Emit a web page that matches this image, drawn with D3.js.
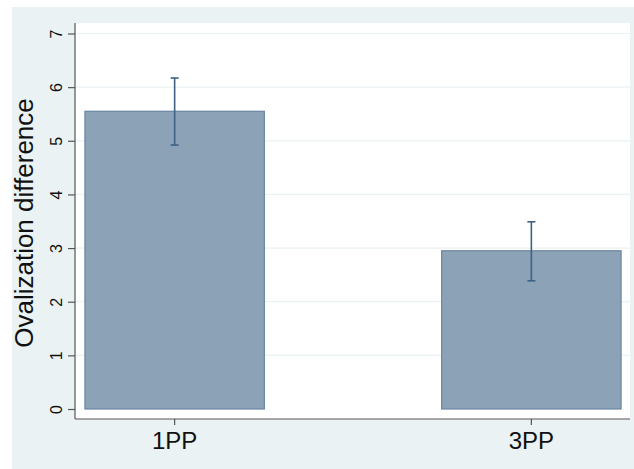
<!DOCTYPE html>
<html>
<head>
<meta charset="utf-8">
<script src="https://cdn.jsdelivr.net/npm/d3@7"></script>
<style>
  body { margin: 0; background: #fff; }
  svg { display: block; font-family: 'Liberation Sans', Arial, sans-serif; }
</style>
</head>
<body>
<svg id="chart" width="634" height="469"></svg>
<script>
// values
const groups = ['1PP', '3PP'];
const means = [5.55, 2.95];
const lower = [4.92, 2.39];
const upper = [6.17, 3.49];
const yTicks = [0, 1, 2, 3, 4, 5, 6, 7];

const svg = d3.select('#chart');

// Stata-style outer region
svg.append('rect')
  .attr('x', 12).attr('y', 7)
  .attr('width', 634 - 12).attr('height', 469 - 7)
  .attr('fill', '#eaf2f3');

const plotLeft = 75, plotRight = 630, plotTop = 23, plotBottom = 419;

svg.append('rect')
  .attr('x', plotLeft).attr('y', plotTop)
  .attr('width', plotRight - plotLeft).attr('height', plotBottom - plotTop)
  .attr('fill', '#fff');

const x = d3.scaleBand()
  .domain(groups)
  .range([plotLeft + 1, plotRight])
  .paddingInner(0.497)
  .paddingOuter(0.025);

const y = d3.scaleLinear().domain([0, 7]).range([409, 33.5]);

// gridlines
svg.append('g')
  .selectAll('line')
  .data(yTicks.filter((d) => d > 0))
  .join('line')
  .attr('x1', plotLeft)
  .attr('x2', plotRight)
  .attr('y1', (d) => y(d))
  .attr('y2', (d) => y(d))
  .attr('stroke', '#eaf2f3')
  .attr('stroke-width', 1.2);

// bars
svg.append('g')
  .selectAll('rect')
  .data(groups)
  .join('rect')
  .attr('x', (d) => x(d))
  .attr('width', x.bandwidth())
  .attr('y', (d, i) => y(means[i]))
  .attr('height', (d, i) => y(0) - y(means[i]))
  .attr('fill', '#8ca2b7')
  .attr('stroke', '#6a86a2')
  .attr('stroke-width', 1.2);

// error bars
const eb = svg.append('g')
  .attr('stroke', '#3f6184')
  .attr('stroke-width', 1.6);

groups.forEach((g, i) => {
  const cx = x(g) + x.bandwidth() / 2;
  eb.append('line')
    .attr('x1', cx).attr('x2', cx)
    .attr('y1', y(lower[i])).attr('y2', y(upper[i]));
  [lower[i], upper[i]].forEach((v) => {
    eb.append('line')
      .attr('x1', cx - 4).attr('x2', cx + 4)
      .attr('y1', y(v)).attr('y2', y(v));
  });
});

// y axis
const yAxis = svg.append('g')
  .attr('transform', `translate(${plotLeft},0)`)
  .call(d3.axisLeft(y).tickValues(yTicks).tickFormat(d3.format('d')).tickSize(7).tickPadding(6));
yAxis.select('.domain')
  .attr('d', `M0,${plotTop}V${plotBottom}`)
  .attr('stroke', '#555')
  .attr('stroke-width', 1.2);
yAxis.selectAll('.tick line').attr('stroke', '#555').attr('stroke-width', 1.2);
yAxis.selectAll('.tick text')
  .attr('font-size', 16)
  .attr('fill', '#111')
  .attr('x', null)
  .attr('dy', null)
  .attr('text-anchor', 'middle')
  .attr('transform', 'translate(-13,0) rotate(-90)');

// x axis
const xAxis = svg.append('g')
  .attr('transform', `translate(0,${plotBottom})`)
  .call(d3.axisBottom(x).tickSize(6).tickPadding(8));
xAxis.select('.domain')
  .attr('d', `M${plotLeft},0H${plotRight}`)
  .attr('stroke', '#555')
  .attr('stroke-width', 1.2);
xAxis.selectAll('.tick line').attr('stroke', '#555').attr('stroke-width', 1.2);
xAxis.selectAll('.tick text')
  .attr('font-size', 24)
  .attr('fill', '#111')
  .attr('dy', null)
  .attr('y', 30);

// y title
svg.append('text')
  .attr('transform', 'translate(33,223) rotate(-90)')
  .attr('text-anchor', 'middle')
  .attr('font-size', 26)
  .attr('fill', '#111')
  .text('Ovalization difference');
</script>
</body>
</html>
